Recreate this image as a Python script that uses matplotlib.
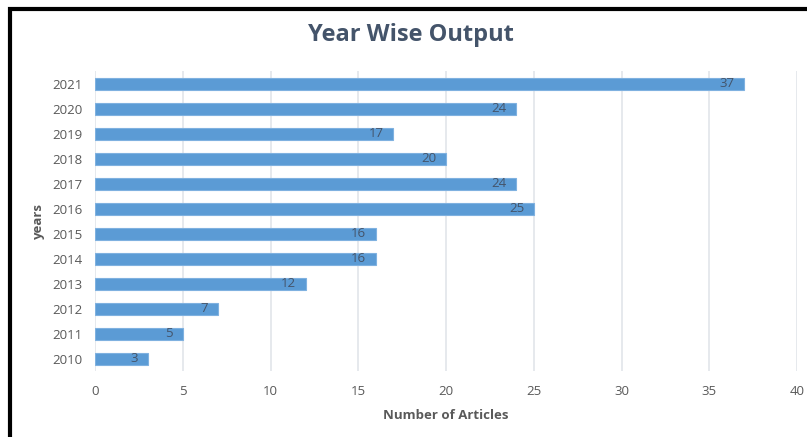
import matplotlib.pyplot as plt
from matplotlib.patches import Rectangle

years = ['2010', '2011', '2012', '2013', '2014', '2015', '2016', '2017', '2018', '2019', '2020', '2021']
articles = [3, 5, 7, 12, 16, 16, 25, 24, 20, 17, 24, 37]
xticks = [0, 5, 10, 15, 20, 25, 30, 35, 40]

plt.rcParams['font.family'] = ['Open Sans', 'DejaVu Sans']

fig = plt.figure(figsize=(8.07, 4.37), dpi=100)
ax = fig.add_axes([0.1177, 0.1499, 0.87, 0.6865])

pos = range(len(years))
ax.barh(pos, articles, height=0.5, color='#5B9BD5', edgecolor='#7FB1E0', linewidth=0.8, zorder=3)
for i, v in enumerate(articles):
    ax.annotate(str(v), xy=(v, i), xytext=(-7, 0), textcoords='offset points',
                ha='right', va='center', fontsize=9.5, color='#44546A', zorder=4)

ax.set_xlim(0, 40)
ax.set_ylim(-0.5, len(years) - 0.5)
ax.set_xticks(xticks)
ax.set_yticks(list(pos))
ax.set_yticklabels(years)
ax.tick_params(axis='both', length=0, labelsize=9.5, colors='#595959')
ax.tick_params(axis='x', pad=10)
ax.tick_params(axis='y', pad=9)
ax.grid(axis='x', color='#E2E5EA', linewidth=1.2, zorder=0)
for s in ax.spines.values():
    s.set_visible(False)

ax.set_xlabel('Number of Articles', fontsize=9.5, fontweight='bold', color='#595959', labelpad=8)
ax.set_ylabel('years', fontsize=9.5, fontweight='bold', color='#595959', labelpad=5)
fig.text(0.509, 0.92, 'Year Wise Output', ha='center', va='center', fontsize=17,
         fontweight='bold', color='#44546A')

# outer frame (left and top only visible)
fig.patches.append(Rectangle((10 / 807, -0.1), 1.2, (437 - 9) / 437 + 0.1, transform=fig.transFigure,
                             fill=False, edgecolor='black', linewidth=3))

fig.savefig('out.png', dpi=100)
